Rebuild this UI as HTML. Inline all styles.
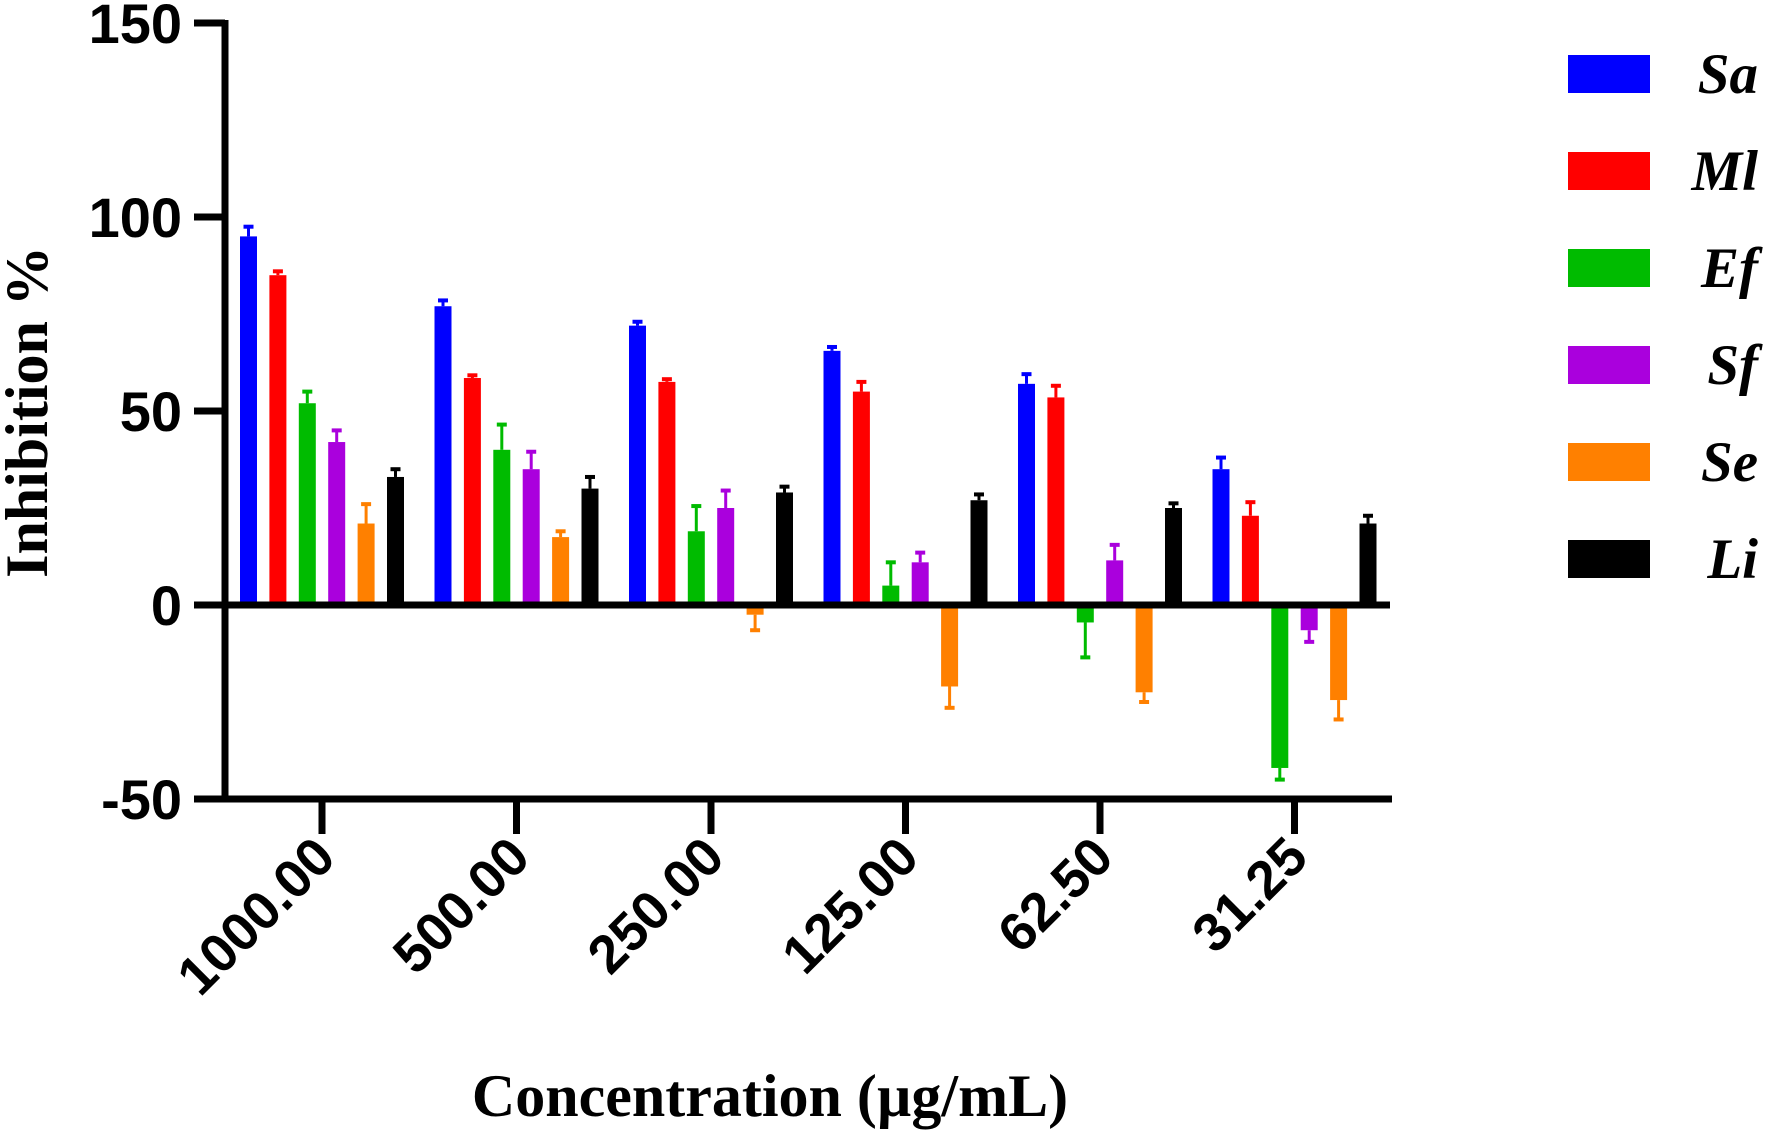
<!DOCTYPE html>
<html><head><meta charset="utf-8"><style>
html,body{margin:0;padding:0;background:#fff;}
svg{display:block;}
</style></head><body>
<svg id="chart" width="1772" height="1131" viewBox="0 0 1772 1131" xmlns="http://www.w3.org/2000/svg">
<g id="plot"></g>
<g id="legend"></g>
<text transform="translate(47,412) rotate(-90)" text-anchor="middle" font-family="Liberation Serif, serif" font-weight="bold" font-size="60">Inhibition %</text>
<text x="770" y="1116" text-anchor="middle" font-family="Liberation Serif, serif" font-weight="bold" font-size="60">Concentration (µg/mL)</text>
</svg>
<script>
const categories = ["1000.00","500.00","250.00","125.00","62.50","31.25"];
const seriesNames = ["Sa","Ml","Ef","Sf","Se","Li"];
const seriesColors = ["#0000ff","#ff0000","#00bb00","#aa00dd","#ff8000","#000000"];
const sa = [95,77,72,65.5,57,35];
const ml = [85,58.5,57.5,55,53.5,23];
const ef = [52,40,19,5,-4.5,-42];
const sf = [42,35,25,11,11.5,-6.5];
const se = [21,17.5,-2.5,-21,-22.5,-24.5];
const li = [33,30,29,27,25,21];
const saErr = [2.5,1.5,1,1,2.5,3];
const mlErr = [1,0.7,0.7,2.5,3,3.5];
const efErr = [3,6.5,6.5,6,9,3];
const sfErr = [3,4.5,4.5,2.5,4,3];
const seErr = [5,1.5,4,5.5,2.5,5];
const liErr = [2,3,1.5,1.5,1.2,2];
const yTicks = [150,100,50,0,-50];

const values = [sa,ml,ef,sf,se,li];
const errs = [saErr,mlErr,efErr,sfErr,seErr,liErr];
const NS = "http://www.w3.org/2000/svg";
const y0px = 605, unit = (605-23)/150;
function yScale(v){ return y0px - v*unit; }
function xCenter(i){ return 322 + i*194.5; }
const pitch = 29.4, bw = 17;
function xBar(i,s){ return xCenter(i) + (s-2.5)*pitch - bw/2; }
function mk(tag, attrs, parent){ const e=document.createElementNS(NS,tag); for(const k in attrs) e.setAttribute(k,attrs[k]); parent.appendChild(e); return e; }
const plot = document.getElementById('plot');
const legend = document.getElementById('legend');

for(let s=0;s<6;s++){
  for(let i=0;i<categories.length;i++){
    const v = values[s][i], e = errs[s][i];
    const x = xBar(i,s);
    const top = Math.min(yScale(v), y0px), h = Math.abs(yScale(v)-y0px);
    const r = mk('rect',{x:x,y:top,width:bw,height:h,fill:seriesColors[s]},plot);
    
    
    const dir = v>=0 ? 1 : -1;
    const ye = yScale(v + dir*e);
    const l = mk('line',{x1:x+bw/2,x2:x+bw/2,y1:yScale(v),y2:ye,stroke:seriesColors[s],'stroke-width':3},plot);
    
    
    const c = mk('line',{x1:x+bw/2-5,x2:x+bw/2+5,y1:ye,y2:ye,stroke:seriesColors[s],'stroke-width':4},plot);
    
    
  }
}
const ya = mk('line',{x1:225,x2:225,y1:20,y2:800,stroke:'#000','stroke-width':7},plot);


const zl = mk('line',{x1:222,x2:1390,y1:y0px,y2:y0px,stroke:'#000','stroke-width':7},plot);


const xa = mk('line',{x1:222,x2:1392,y1:yScale(-50),y2:yScale(-50),stroke:'#000','stroke-width':7},plot);


for(const t of yTicks){
  const tk = mk('line',{x1:194,x2:225,y1:yScale(t),y2:yScale(t),stroke:'#000','stroke-width':7},plot);
  
  
  const tx = mk('text',{x:182,y:yScale(t)+20,'text-anchor':'end','font-family':'Liberation Sans, sans-serif','font-weight':'bold','font-size':56},plot);
  tx.textContent = t;
  
  
}
for(let i=0;i<categories.length;i++){
  const cx = xCenter(i);
  const tk = mk('line',{x1:cx,x2:cx,y1:yScale(-50),y2:834,stroke:'#000','stroke-width':7},plot);
  
  
  const tx = mk('text',{transform:'translate('+(cx+16)+',860) rotate(-45)','text-anchor':'end','font-family':'Liberation Sans, sans-serif','font-weight':'bold','font-size':54},plot);
  tx.textContent = categories[i];
  
  
}
for(let s=0;s<6;s++){
  const cy = 74 + s*97;
  const sw = mk('rect',{x:1568,y:cy-19,width:82,height:38,fill:seriesColors[s]},legend);
  
  
  const tx = mk('text',{x:1758,y:cy+19,'text-anchor':'end','font-family':'Liberation Serif, serif','font-weight':'bold','font-style':'italic','font-size':57},legend);
  tx.textContent = seriesNames[s];
  
  
}
</script>
</body></html>
